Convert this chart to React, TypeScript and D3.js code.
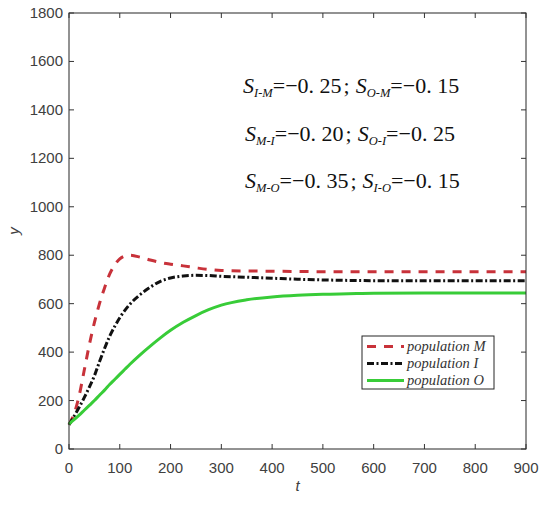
import { scaleLinear, line as d3Line, curveMonotoneX } from 'd3';

const tValues = [0, 10, 20, 30, 40, 50, 60, 70, 80, 90, 100, 110, 120, 140, 160, 180, 200, 225, 250, 275, 300, 350, 400, 450, 500, 550, 600, 700, 800, 900];
const popM = [100, 145, 220, 325, 430, 522, 600, 665, 722, 760, 785, 797, 800, 792, 780, 770, 763, 756, 748, 741, 737, 735, 734, 733, 732, 732, 732, 732, 732, 732];
const popI = [100, 135, 172, 212, 255, 302, 360, 415, 465, 506, 542, 572, 598, 637, 668, 692, 706, 714, 717, 716, 713, 709, 705, 701, 698, 696, 695, 695, 695, 695];
const popO = [103, 121, 140, 160, 180, 200, 222, 243, 266, 287, 308, 329, 350, 389, 425, 459, 490, 523, 551, 575, 594, 616, 628, 635, 639, 641, 643, 644, 644, 644];

const xTicks = [0, 100, 200, 300, 400, 500, 600, 700, 800, 900];
const yTicks = [0, 200, 400, 600, 800, 1000, 1200, 1400, 1600, 1800];

const seriesNames = ['population M', 'population I', 'population O'];

// annotation rows: [subscript, value] pairs
const notes = [
  [['I-M', '−0. 25'], ['O-M', '−0. 15']],
  [['M-I', '−0. 20'], ['O-I', '−0. 25']],
  [['M-O', '−0. 35'], ['I-O', '−0. 15']],
];

const WIDTH = 550;
const HEIGHT = 505;
const MARGINS = { top: 13, right: 24, bottom: 56, left: 69 };

const styles = [
  { stroke: '#c8323a', dash: '9,8' },
  { stroke: '#111111', dash: '7,2.5,2,2.5' },
  { stroke: '#38cc38', dash: undefined },
];

const App = () => {
  const x = scaleLinear().domain([0, 900]).range([MARGINS.left, WIDTH - MARGINS.right]);
  const y = scaleLinear().domain([0, 1800]).range([HEIGHT - MARGINS.bottom, MARGINS.top]);

  const x0 = x(0);
  const x1 = x(900);
  const y0 = y(0);
  const y1 = y(1800);

  const makeLine = (vals: number[]) =>
    d3Line<number>()
      .x((_, i) => x(tValues[i]))
      .y((v) => y(v))
      .curve(curveMonotoneX)(vals) || '';

  const series = [popM, popI, popO];
  const tickColor = '#333';
  const labelFont = '"Liberation Sans", Arial, sans-serif';
  const serif = '"Liberation Serif", "Times New Roman", serif';

  return (
    <div style={{ position: 'absolute', left: 0, top: 0 }}>
      <svg width={WIDTH} height={HEIGHT} style={{ display: 'block', background: '#fff' }}>
        {/* curves */}
        {series.map((vals, i) => (
          <path
            key={i}
            d={makeLine(vals)}
            fill="none"
            stroke={styles[i].stroke}
            strokeWidth={3}
            strokeDasharray={styles[i].dash}
          />
        ))}

        {/* frame */}
        <rect x={x0} y={y1} width={x1 - x0} height={y0 - y1} fill="none" stroke="#262626" strokeWidth={1} />

        {/* x ticks */}
        {xTicks.map((t) => (
          <g key={'x' + t}>
            <line x1={x(t)} x2={x(t)} y1={y0} y2={y0 - 5} stroke={tickColor} />
            <line x1={x(t)} x2={x(t)} y1={y1} y2={y1 + 5} stroke={tickColor} />
            <text x={x(t)} y={y0 + 24} textAnchor="middle" fontFamily={labelFont} fontSize={15} fill="#404040">
              {t}
            </text>
          </g>
        ))}

        {/* y ticks */}
        {yTicks.map((v) => (
          <g key={'y' + v}>
            <line x1={x0} x2={x0 + 5} y1={y(v)} y2={y(v)} stroke={tickColor} />
            <line x1={x1} x2={x1 - 5} y1={y(v)} y2={y(v)} stroke={tickColor} />
            <text x={x0 - 6} y={y(v) + 5} textAnchor="end" fontFamily={labelFont} fontSize={15} fill="#404040">
              {v}
            </text>
          </g>
        ))}

        {/* axis labels */}
        <text x={(x0 + x1) / 2} y={y0 + 42} textAnchor="middle" fontFamily={labelFont} fontStyle="italic" fontSize={15} fill="#404040">
          t
        </text>
        <text
          transform={`translate(19, ${(y0 + y1) / 2}) rotate(-90)`}
          textAnchor="middle"
          fontFamily={labelFont}
          fontStyle="italic"
          fontSize={15}
          fill="#404040"
        >
          y
        </text>

        {/* annotations */}
        {notes.map((row, r) => (
          <text key={'n' + r} x={r === 0 ? 243 : 245} y={93 + r * 47.5} fontFamily={serif} fontSize={22} fill="#111">
            {row.map(([sub, val], k) => (
              <tspan key={k}>
                <tspan fontStyle="italic" dx={k === 0 ? 0 : 6}>S</tspan>
                <tspan fontStyle="italic" fontSize={12.5} dy={4}>{sub}</tspan>
                <tspan dy={-4}>{'=' + val}</tspan>
                {k === 0 ? <tspan dx={2}>;</tspan> : null}
              </tspan>
            ))}
          </text>
        ))}

        {/* legend */}
        <g transform="translate(362, 336)">
          <rect x={0} y={0} width={132} height={53} fill="#fff" stroke="#262626" strokeWidth={1} />
          {seriesNames.map((name, i) => (
            <g key={name} transform={`translate(0, ${10.5 + i * 17})`}>
              <line x1={5} x2={42} y1={0} y2={0} stroke={styles[i].stroke} strokeWidth={3} strokeDasharray={styles[i].dash} />
              <text x={45} y={4.5} fontFamily={serif} fontStyle="italic" fontSize={14.5} fill="#333">
                {name}
              </text>
            </g>
          ))}
        </g>
      </svg>
    </div>
  );
};

export default App;
